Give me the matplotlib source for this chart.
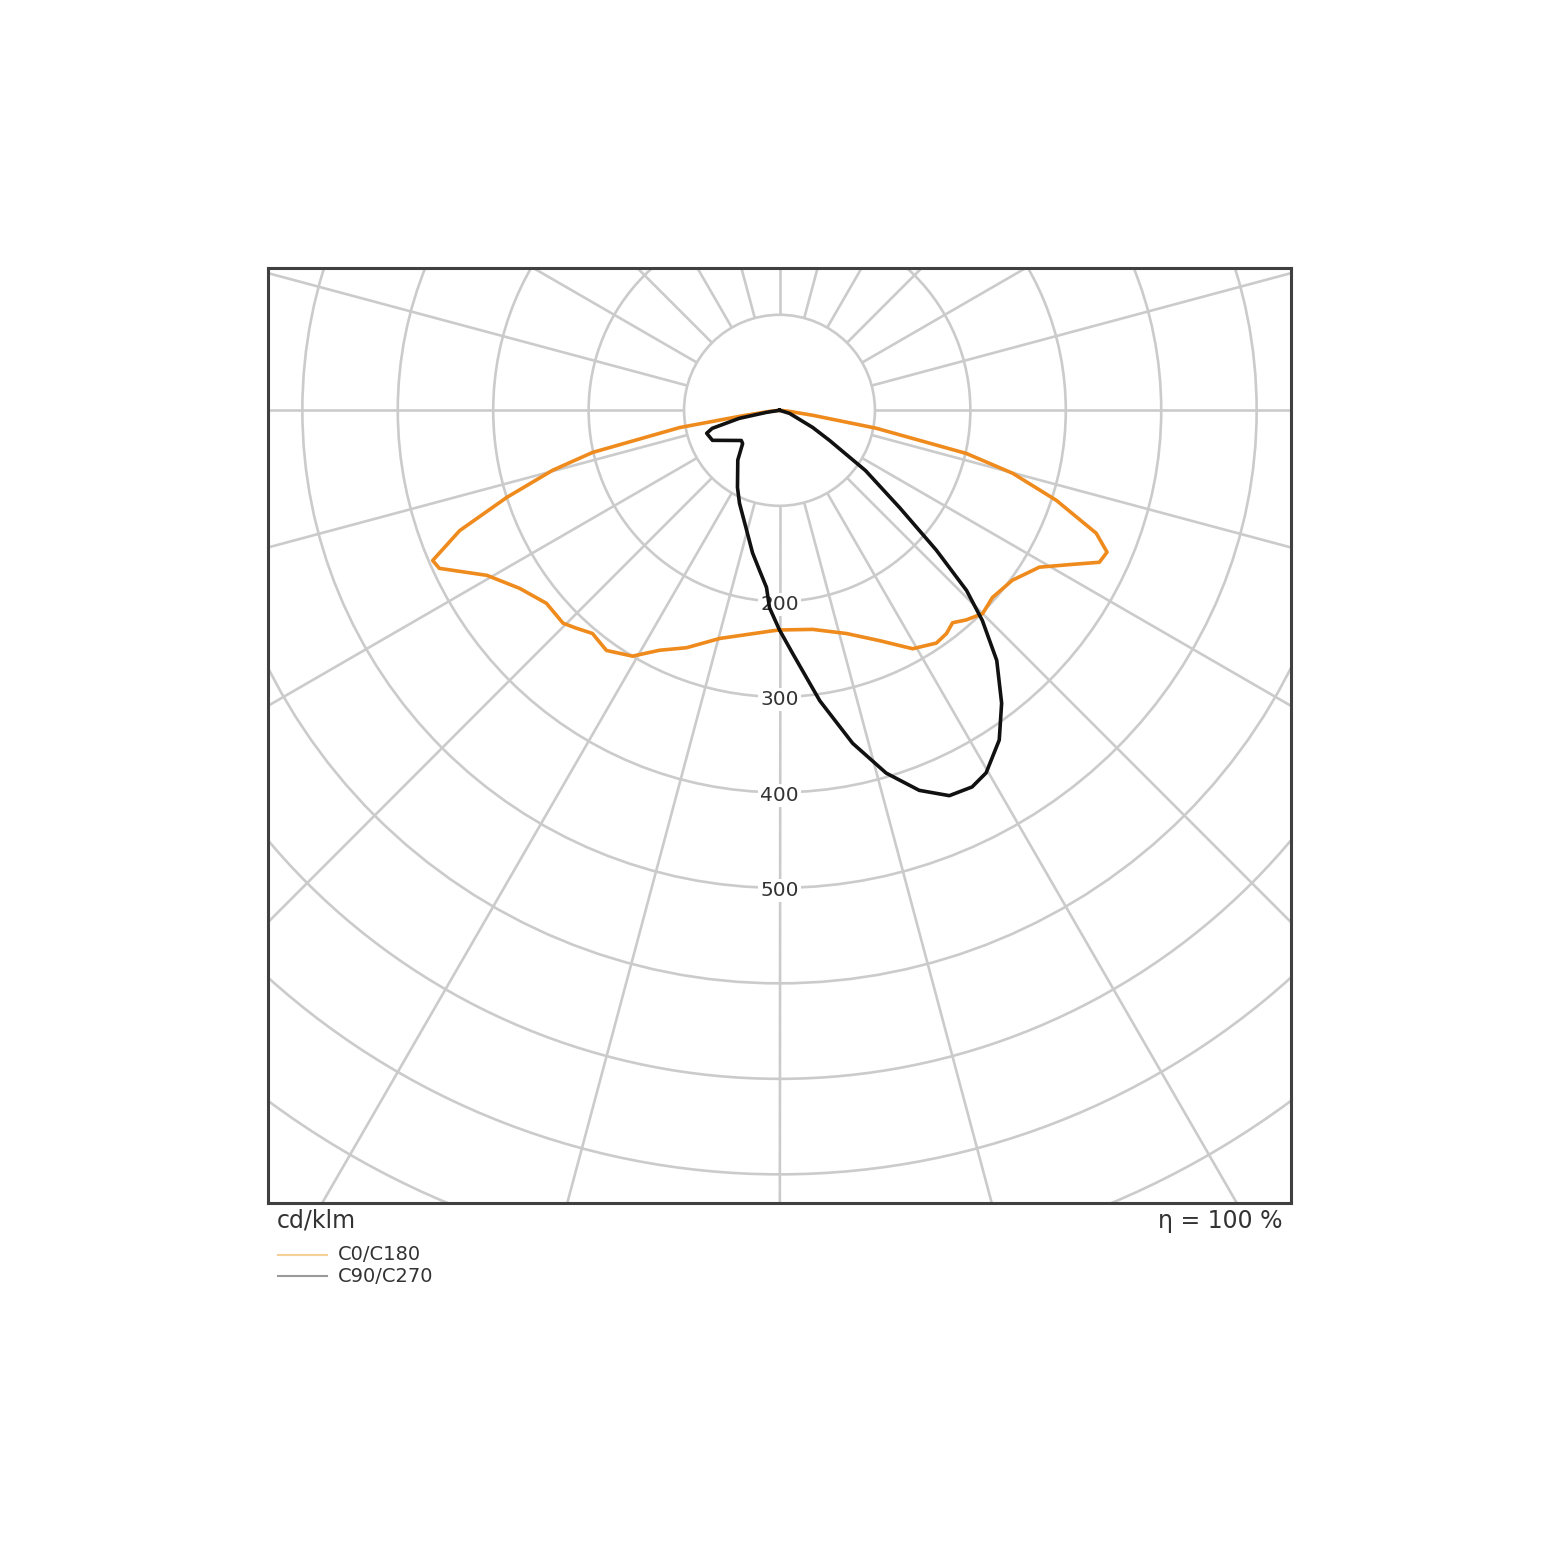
import numpy as np
import matplotlib.pyplot as plt
from matplotlib.patches import Circle
from matplotlib.lines import Line2D

# luminous intensity in cd/klm, gamma measured from nadir (degrees)
c0_gamma = [0, 8.6, 16.7, 23.5, 29.2, 34, 36.8, 39.2, 41.7, 45, 48.7, 53.9, 58.9,
            62.3, 64.6, 66.6, 68.8, 72, 74.9, 77, 79.5, 81.5, 84, 90]
c0_int = [230, 232, 244, 263, 286, 294, 292, 287, 294, 301, 297, 302, 318,
          347, 371, 374, 356, 305, 253, 201, 103, 35, 10, 0]

c180_gamma = [0, 1.8, 14.7, 21.4, 26.6, 30.9, 35.8, 40, 43, 45.5, 50.4, 55.6, 60.6,
              65.1, 66.6, 69.4, 72.3, 75.2, 77.3, 80.2, 81.5, 84, 90]
c180_int = [230, 231, 247, 267, 281, 300, 310, 305, 312, 318, 317, 330, 352,
            393, 396, 358, 300, 246, 201, 106, 40, 10, 0]

c90_gamma = [0, 3.1, 7.9, 12.4, 16.4, 20.2, 23.8, 27.1, 29.7, 33.7, 37.2, 41, 44,
             46.1, 48.3, 51, 55, 59, 62.7, 73, 90]
c90_int = [230, 255, 307, 357, 396, 424, 441, 443, 437, 415, 385, 347, 306,
           272, 220, 162, 110, 61, 39, 11, 0]

c270_gamma = [0, 2.9, 4.2, 7.1, 10.7, 15.4, 23.3, 28.6, 40, 48, 51.7, 60.5, 65.9,
              72.5, 75, 78.7, 81, 90]
c270_int = [230, 207, 186, 169, 152, 130, 106, 92, 68, 52, 51, 64, 77,
            80, 73, 43, 14, 0]

ring_labels = [200, 300, 400, 500]


def half(gamma, inten, side):
    g = np.radians(gamma)
    r = np.array(inten, dtype=float)
    return side * r * np.sin(g), -r * np.cos(g)


def full_curve(g_left, i_left, g_right, i_right):
    xl, yl = half(g_left, i_left, -1)
    xr, yr = half(g_right, i_right, 1)
    return np.concatenate([xl[::-1], xr]), np.concatenate([yl[::-1], yr])


fig = plt.figure(figsize=(15.6, 15.61), dpi=100)
ax = fig.add_axes([268 / 1560, 1 - 1203 / 1561, 1023 / 1560, 935 / 1561])
ax.set_xlim(-536, 536)
ax.set_ylim(-830, 149)
ax.set_xticks([])
ax.set_yticks([])
for sp in ax.spines.values():
    sp.set_color('#404040')
    sp.set_linewidth(2.2)

grid_col = '#cbcbcb'
for r in range(100, 1100, 100):
    ax.add_patch(Circle((0, 0), r, fill=False, ec=grid_col, lw=1.9, zorder=1))
for a in range(0, 360, 15):
    t = np.radians(a)
    ax.plot([100 * np.cos(t), 1200 * np.cos(t)], [100 * np.sin(t), 1200 * np.sin(t)],
            color=grid_col, lw=1.9, zorder=1, solid_capstyle='butt')

for v in ring_labels:
    ax.text(0, -v - 3, str(v), ha='center', va='center', fontsize=14.5, color='#333333',
            bbox=dict(boxstyle='square,pad=0.1', fc='white', ec='none'), zorder=2)

x, y = full_curve(c180_gamma, c180_int, c0_gamma, c0_int)
ax.plot(x, y, color='#ef8a1d', lw=2.6, zorder=3, solid_joinstyle='round')
x, y = full_curve(c270_gamma, c270_int, c90_gamma, c90_int)
ax.plot(x, y, color='#111111', lw=2.6, zorder=4, solid_joinstyle='round')

fig.text(277 / 1560, 1 - 1221 / 1561, 'cd/klm', ha='left', va='center', fontsize=17, color='#333333')
fig.text(1282 / 1560, 1 - 1221 / 1561, 'η = 100 %', ha='right', va='center', fontsize=17, color='#333333')

legend_items = [('C0/C180', '#f7cf98', 1255), ('C90/C270', '#9a9a9a', 1276)]
for name, col, py in legend_items:
    yy = 1 - py / 1561
    fig.add_artist(Line2D([278 / 1560, 327 / 1560], [yy, yy], color=col, lw=1.5))
    fig.text(338 / 1560, yy, name, ha='left', va='center', fontsize=14, color='#333333')

fig.savefig('out.png', dpi=100, facecolor='white')
